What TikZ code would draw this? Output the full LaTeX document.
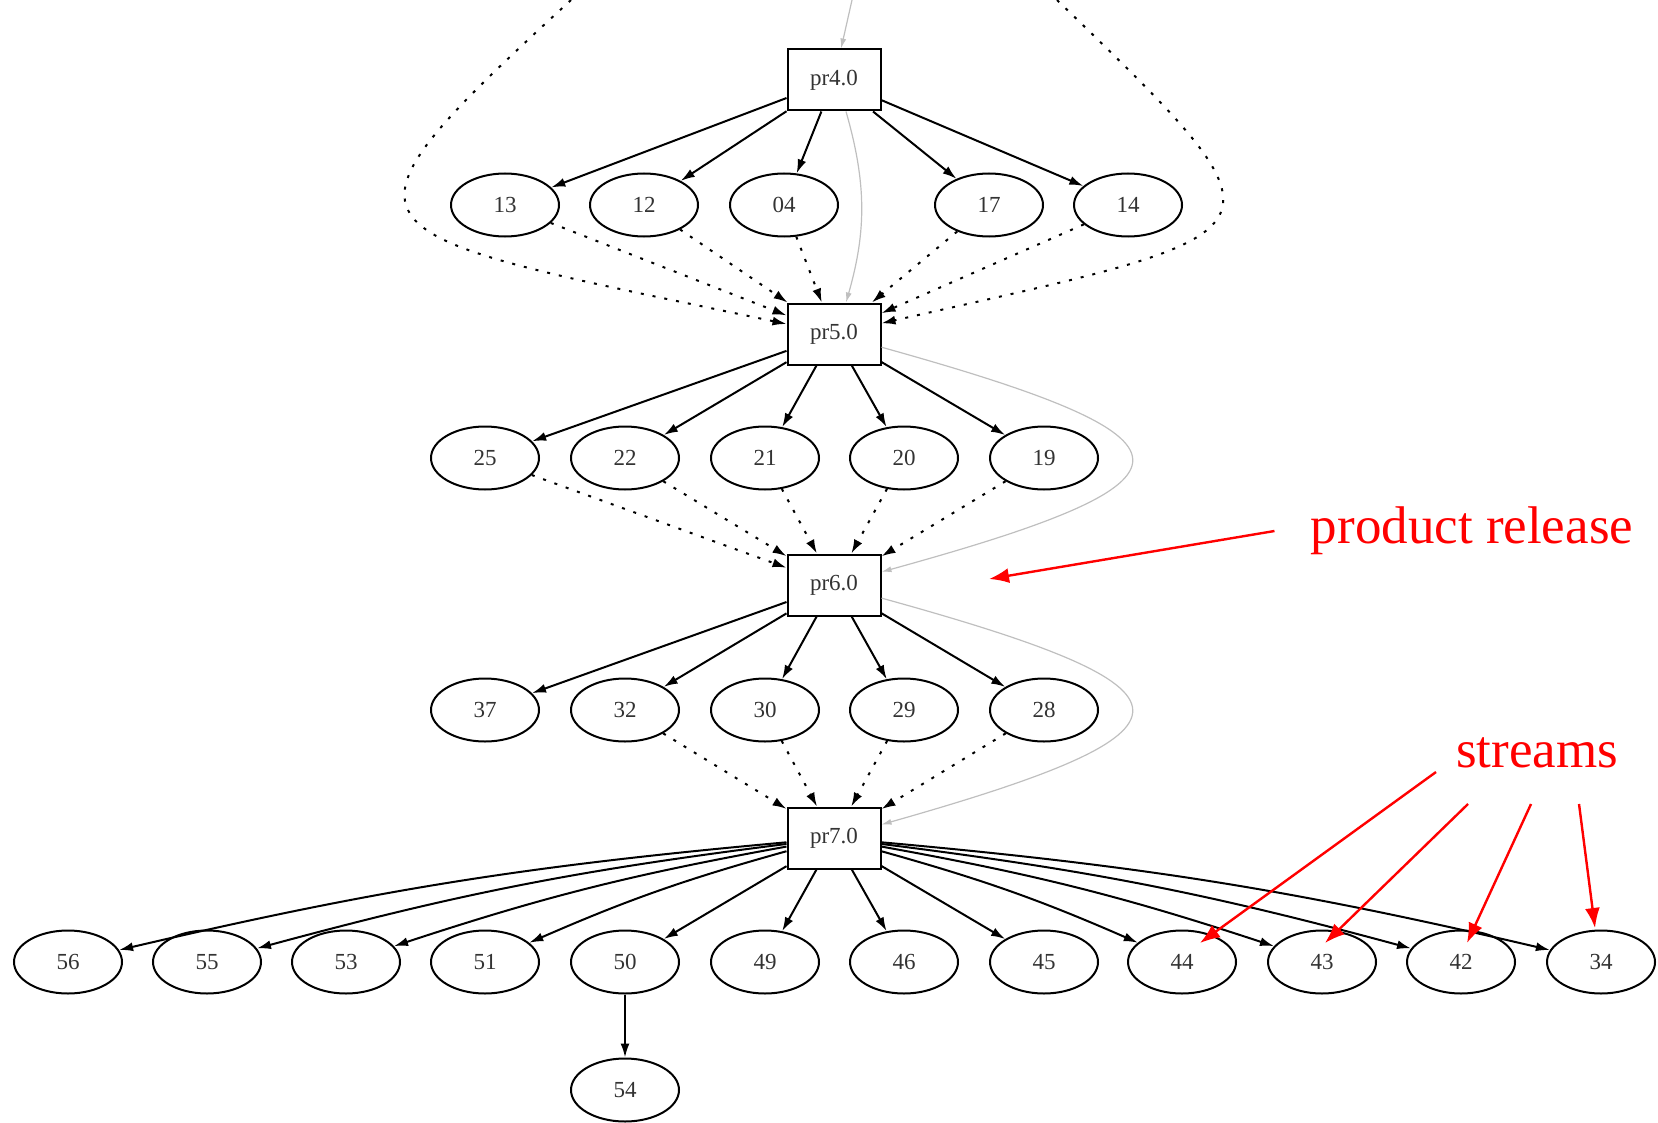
\documentclass[tikz,border=0pt]{standalone}
\usepackage{fontspec}
\setmainfont{Liberation Serif}
\usetikzlibrary{arrows.meta,shapes.geometric}

\tikzset{
  release/.style={draw, line width=1pt, minimum width=46.5pt, minimum height=30.5pt,
    inner sep=0pt, text=black!80, font=\fontsize{11.5}{12}\selectfont},
  stream/.style={draw, ellipse, line width=1pt, minimum width=54pt, minimum height=31.5pt,
    inner sep=0pt, text=black!80, font=\fontsize{11.5}{12}\selectfont},
  flow/.style={line width=1pt, -{Latex[length=7pt,width=4.5pt]}},
  merge/.style={flow, dash pattern=on 1.5pt off 4.5pt},
  lineage/.style={draw=black!25, line width=0.6pt, -{Latex[length=5pt,width=3pt]}},
  callout/.style={draw=red, line width=1.2pt, -{Latex[length=10pt,width=7.5pt]}},
  note/.style={text=red, inner sep=0pt, font=\fontsize{26.5}{30}\selectfont},
}

\begin{document}
\begin{tikzpicture}[x=0.5pt, y=-0.5pt]
  \useasboundingbox (0,0) rectangle (1658,1123);
  % product releases
  \node[release] (pr4) at (834,80) {pr4.0};
  \node[release] (pr5) at (834,334) {pr5.0};
  \node[release] (pr6) at (834,585) {pr6.0};
  \node[release] (pr7) at (834,838) {pr7.0};
  % streams
  \foreach \n/\x in {13/505,12/644,04/784,17/989,14/1128}
    \node[stream] (s\n) at (\x,205) {\n};
  \foreach \n/\x in {25/485,22/625,21/765,20/904,19/1044}
    \node[stream] (s\n) at (\x,458) {\n};
  \foreach \n/\x in {37/485,32/625,30/765,29/904,28/1044}
    \node[stream] (s\n) at (\x,710) {\n};
  \foreach \n/\x in {56/68,55/207,53/346,51/485,50/625,49/765,46/904,45/1044,44/1182,43/1322,42/1461,34/1601}
    \node[stream] (s\n) at (\x,962) {\n};
  \node[stream] (s54) at (625,1090) {54};

  % edges
  \foreach \n in {13,12,04,17,14} {
    \draw[flow] (pr4) -- (s\n);
    \draw[merge] (s\n) -- (pr5);
  }
  \foreach \n in {25,22,21,20,19} {
    \draw[flow] (pr5) -- (s\n);
    \draw[merge] (s\n) -- (pr6);
  }
  \foreach \n in {37,32,30,29,28}
    \draw[flow] (pr6) -- (s\n);
  \foreach \n in {32,30,29,28}
    \draw[merge] (s\n) -- (pr7);
  \foreach \n in {56,55,53,51}
    \draw[flow] (pr7) to[bend right=4] (s\n);
  \foreach \n in {50,49,46,45}
    \draw[flow] (pr7) -- (s\n);
  \foreach \n in {44,43,42,34}
    \draw[flow] (pr7) to[bend left=4] (s\n);
  \draw[flow] (s50) -- (s54);

  % from above
  \coordinate (farL) at (571,0);
  \coordinate (farR) at (1057,0);
  \coordinate (topin) at (852,0);
  \draw[merge] (farL) .. controls (310,240) and (340,230) .. (pr5);
  \draw[merge] (farR) .. controls (1305,240) and (1295,230) .. (pr5);
  \draw[lineage] (topin) -- (pr4);
  \draw[lineage] ([xshift=6pt]pr4.south) to[bend left=16] ([xshift=6pt]pr5.north);
  \draw[lineage] (pr5) .. controls (1215,440) and (1215,480) .. (pr6);
  \draw[lineage] (pr6) .. controls (1215,690) and (1215,730) .. (pr7);

  % notes
  \node[note] (relnote) at (1472,531) {product release};
  \node[note] (strnote) at (1537,753) {streams};
  \coordinate (reltip) at (989,579);
  \draw[callout] ([xshift=-18pt]relnote.west) -- (reltip);
  \foreach \s/\fx/\fy/\tx/\ty in {44/1436/772/1200/943, 43/1468/804/1325/943,
      42/1531/804/1467/943, 34/1579/804/1595/928} {
    \coordinate (from\s) at (\fx,\fy);
    \coordinate (tip\s) at (\tx,\ty);
    \draw[callout] (from\s) -- (tip\s);
  }
\end{tikzpicture}
\end{document}
